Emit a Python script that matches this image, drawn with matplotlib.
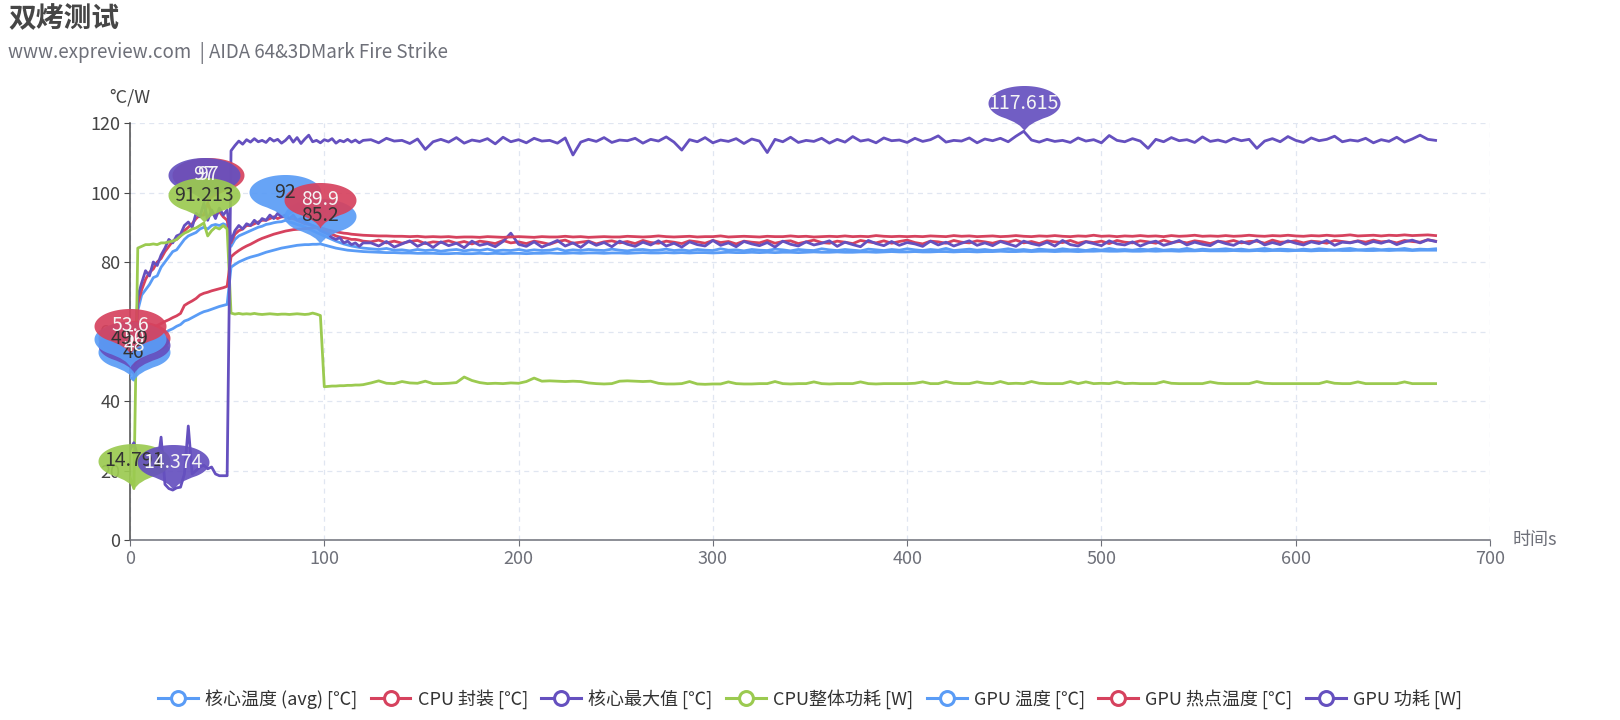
import numpy as np
import matplotlib
matplotlib.use("Agg")
import matplotlib.pyplot as plt
from matplotlib.lines import Line2D
from matplotlib.path import Path

plt.rcParams['font.family'] = ['Noto Sans CJK SC', 'DejaVu Sans']

#Sample times (s): every 2 s up to 120 s, then every 4 s.
time_s = np.concatenate([np.arange(0, 121, 2), np.arange(124, 673, 4)])

series_names = ["核心温度 (avg) [℃]", "CPU 封装 [℃]", "核心最大值 [℃]", "CPU整体功耗 [W]",
                "GPU 温度 [℃]", "GPU 热点温度 [℃]", "GPU 功耗 [W]"]
series_colors = ["#5a9cf6", "#d6425e", "#6550bf", "#9bca50", "#5a9cf6", "#d6425e", "#6550bf"]
label_colors = ["#333333", "#f4f4f4", "#f4f4f4", "#333333", "#333333", "#f4f4f4", "#f4f4f4"]

core_avg = [
    47, 46, 66, 70.5, 72, 73.5, 75.5, 76, 78.5, 80,
    81.5, 83, 83.5, 85, 86.5, 87.5, 88, 88.5, 89.5, 90,
    89.5, 90.5, 90.8, 90.5, 91, 90.5, 84.5, 86.5, 87.5, 88,
    88.5, 89, 89.5, 90, 90.3, 90.8, 91, 91.3, 91.5, 91.6,
    92, 91.5, 91.2, 90.8, 90.5, 90, 89.5, 89, 88.5, 88,
    87.5, 87, 86.5, 86, 85.6, 85.2, 84.9, 84.6, 84.4, 84.2,
    84,
    83.8, 83.6, 83.9, 83.4, 83.5, 83.2, 83.6, 83.3, 83.5, 83.1,
    83.4, 83.6, 83.2, 83.5, 83.3, 83.7, 83.2, 83.4, 83.3, 83.6,
    83.2, 83.5, 83.3, 83.4, 83.8, 83.2, 83.5, 83.3, 83.6, 83.4,
    83.3, 83.7, 83.4, 83.2, 83.5, 83.6, 83.3, 83.4, 83.7, 83.3,
    83.5, 83.2, 83.6, 83.4, 83.3, 83.8, 83.4, 83.5, 83.2, 83.6,
    83.4, 83.3, 83.7, 83.5, 83.2, 83.6, 83.4, 83.3, 83.8, 83.5,
    83.3, 83.6, 83.4, 83.2, 83.7, 83.5, 83.3, 83.6, 83.4, 83.8,
    83.5, 83.3, 83.6, 83.4, 83.9, 83.3, 83.5, 83.7, 83.4, 83.6,
    83.3, 83.5, 83.8, 83.4, 83.6, 83.3, 83.7, 83.5, 83.4, 83.8,
    83.5, 83.6, 83.3, 83.7, 83.4, 83.9, 83.5, 83.6, 83.4, 83.7,
    83.5, 83.8, 83.4, 83.6, 83.5, 83.9, 83.4, 83.7, 83.5, 83.6,
    83.8, 83.5, 83.7, 83.4, 83.6, 83.9, 83.5, 83.7, 83.6, 83.4,
    83.7, 83.5, 83.8, 83.6, 83.4, 83.7, 83.9, 83.5, 83.6, 83.8,
    83.5, 83.7, 83.6, 83.9, 83.5, 83.7, 83.6, 83.8]

cpu_package = [
    51, 50, 68, 72, 75, 77, 78, 80, 81, 83,
    84.5, 86, 86.5, 87.5, 89, 90, 91, 92.5, 93.5, 93.5,
    97, 94, 93.5, 94.5, 93, 92, 85.5, 88, 89, 89.5,
    90.5, 90.5, 91, 91.5, 92, 92, 92.5, 93, 92.5, 93,
    93, 92.5, 92.5, 92, 91.5, 91, 90.8, 90.5, 90, 89.5,
    89, 88.5, 88, 87.5, 87.2, 87, 86.8, 86.5, 86.5, 86.3,
    86,
    85.8, 86.3, 85.5, 86.0, 85.4, 85.9, 86.2, 85.3, 85.8, 85.6,
    86.1, 85.4, 85.9, 85.2, 86.0, 85.7, 85.3, 86.2, 85.5, 85.8,
    85.3, 86.0, 85.6, 85.1, 85.9, 86.3, 85.4, 85.7, 86.0, 85.2,
    85.8, 86.1, 85.5, 85.9, 85.3, 86.2, 85.6, 85.4, 86.0, 85.7,
    85.3, 86.1, 85.8, 85.4, 86.2, 85.6, 85.9, 85.2, 86.0, 85.7,
    85.5, 86.2, 85.4, 85.9, 86.1, 85.3, 85.8, 86.3, 85.6, 85.4,
    86.0, 85.7, 85.3, 86.2, 85.8, 85.5, 86.1, 85.4, 85.9, 86.3,
    85.6, 85.2, 86.0, 85.8, 85.4, 86.2, 85.7, 85.5, 86.1, 85.8,
    85.4, 86.0, 85.7, 86.3, 85.5, 85.9, 85.3, 86.1, 85.8, 85.6,
    86.2, 85.4, 85.9, 85.6, 86.0, 85.3, 86.2, 85.7, 85.5, 86.1,
    85.8, 85.4, 86.3, 85.6, 85.9, 85.5, 86.1, 85.8, 85.3, 86.0,
    85.7, 86.2, 85.5, 85.9, 86.0, 85.4, 86.3, 85.7, 85.8, 86.1,
    85.5, 86.0, 85.8, 85.4, 86.2, 85.9, 85.6, 86.1, 85.7, 86.3,
    85.8, 86.0, 85.5, 86.2, 85.9, 85.7, 86.4, 86.0]

core_max = [
    49, 48, 70, 74, 77.5, 76, 80, 79, 82, 84,
    86.5, 85.5, 87.5, 88, 90.5, 91.5, 90, 94, 93, 97,
    92, 95, 92.5, 95.5, 93.5, 95, 86, 89, 90.5, 89.5,
    91, 90.5, 92, 91, 92.5, 92, 93.5, 92.5, 94, 93,
    93.5, 92.5, 93.5, 92, 92.5, 91.5, 91, 90.5, 90, 89,
    88.5, 88, 87, 86.5, 87, 85.5, 86, 85, 85.5, 84.5,
    85.5,
    85.5, 84.6, 85.9, 84.3, 85.2, 86.1, 84.5, 85.6, 84.2, 85.8,
    84.7, 85.4, 84.1, 86.0, 84.8, 85.3, 84.4, 85.9, 88.3, 85.1,
    84.5, 85.8, 84.3, 85.2, 86.2, 84.6, 85.5, 84.2, 85.9, 84.8,
    85.6, 84.4, 86.0, 85.1, 84.5, 85.7, 84.9, 86.1, 84.6, 85.4,
    84.3, 85.8, 85.0, 84.6, 86.2, 84.8, 85.5, 84.4, 85.9, 85.2,
    84.7, 85.6, 84.3, 86.0, 85.1, 84.6, 85.8, 84.9, 85.4, 86.1,
    84.5, 85.7, 85.0, 84.4, 86.2, 85.3, 84.7, 85.9, 84.8, 85.6,
    85.2, 84.5, 86.0, 84.9, 85.7, 84.6, 85.4, 86.1, 84.8, 85.5,
    84.7, 85.9, 85.2, 84.5, 86.0, 85.3, 84.8, 85.7, 84.6, 86.2,
    85.0, 84.6, 85.8, 85.3, 84.7, 86.1, 85.2, 84.9, 85.8, 84.6,
    85.5, 86.0, 84.8, 85.4, 86.2, 84.9, 85.7, 85.1, 84.7, 86.0,
    85.3, 84.8, 85.9, 85.2, 86.3, 84.9, 85.6, 85.0, 86.1, 85.4,
    84.9, 85.8, 85.3, 86.2, 84.8, 85.7, 85.5, 86.0, 85.1, 85.9,
    85.4, 86.1, 85.0, 85.8, 86.3, 85.5, 86.4, 85.9]

cpu_power = [
    18, 14.791, 84, 84.5, 85, 85, 85.2, 85, 85.5, 85.5,
    85.8, 86, 86.5, 87.5, 88.3, 88.8, 89.5, 89.8, 90.5, 91.213,
    87.5, 89, 90, 89.5, 90.5, 89.5, 65.3, 65, 65.2, 65,
    65.1, 65, 65.2, 65, 64.9, 65, 65.1, 65, 64.9, 65,
    65, 64.9, 65, 65.1, 65, 64.9, 65, 65.3, 65, 64.6,
    44.1, 44.2, 44.3, 44.3, 44.4, 44.4, 44.5, 44.5, 44.6, 44.6,
    44.7,
    45.2, 45.8, 45.1, 45.0, 45.6, 45.2, 45.1, 45.7, 45.0, 45.0,
    45.1, 45.3, 46.9, 45.9, 45.3, 45.0, 45.1, 45.0, 45.2, 45.1,
    45.6, 46.6, 45.7, 45.8, 45.7, 45.6, 45.7, 45.6, 45.2, 45.0,
    44.9, 45.0, 45.7, 45.8, 45.7, 45.6, 45.7, 45.1, 44.9, 44.9,
    45.0, 45.6, 44.9, 44.8, 44.9, 44.9, 45.5, 45.0, 44.9, 44.9,
    45.0, 45.0, 45.6, 45.0, 44.9, 45.0, 45.0, 45.5, 45.0, 44.9,
    45.0, 45.0, 45.0, 45.5, 45.0, 44.9, 45.0, 45.0, 45.0, 45.0,
    45.1, 45.5, 45.0, 45.0, 45.6, 45.1, 45.0, 45.0, 45.5, 45.1,
    45.0, 45.6, 45.0, 45.1, 45.0, 45.6, 45.1, 45.0, 45.0, 45.0,
    45.6, 45.0, 45.5, 45.0, 45.1, 45.0, 45.5, 45.0, 45.1, 45.0,
    45.0, 45.0, 45.6, 45.1, 45.0, 45.0, 45.0, 45.0, 45.5, 45.1,
    45.0, 45.0, 45.0, 45.0, 45.6, 45.1, 45.0, 45.0, 45.0, 45.0,
    45.0, 45.0, 45.0, 45.6, 45.1, 45.0, 45.0, 45.5, 45.0, 45.0,
    45.0, 45.0, 45.0, 45.5, 45.0, 45.0, 45.0, 45.0]

gpu_temp = [
    49.9, 52, 53.5, 54.6, 55.6, 56.5, 57.3, 58, 58.8, 59.6,
    60.3, 60.8, 61.5, 62, 63, 63.4, 64, 64.6, 65.2, 65.7,
    66, 66.4, 66.8, 67.2, 67.5, 67.8, 78.5, 79.3, 80, 80.5,
    81, 81.4, 81.7, 82, 82.4, 82.8, 83.1, 83.4, 83.7, 84,
    84.2, 84.4, 84.6, 84.8, 84.9, 85, 85, 85.1, 85.1, 85.2,
    84.9, 84.6, 84.3, 84, 83.8, 83.6, 83.4, 83.3, 83.2, 83.1,
    83,
    82.9, 82.8, 82.7, 82.7, 82.6, 82.6, 82.5, 82.5, 82.5, 82.4,
    82.4, 82.5, 82.4, 82.4, 82.5, 82.4, 82.5, 82.4, 82.5, 82.5,
    82.4, 82.5, 82.5, 82.6, 82.5, 82.5, 82.6, 82.5, 82.6, 82.6,
    82.5, 82.6, 82.6, 82.5, 82.6, 82.7, 82.6, 82.6, 82.7, 82.6,
    82.7, 82.6, 82.7, 82.7, 82.6, 82.7, 82.8, 82.7, 82.7, 82.8,
    82.7, 82.8, 82.7, 82.8, 82.8, 82.7, 82.8, 82.9, 82.8, 82.8,
    82.9, 82.8, 82.8, 82.9, 82.9, 82.8, 82.9, 83.0, 82.9, 82.9,
    83.0, 82.9, 82.9, 83.0, 83.0, 82.9, 83.0, 83.0, 82.9, 83.0,
    83.0, 83.1, 83.0, 83.0, 83.1, 83.0, 83.1, 83.1, 83.0, 83.1,
    83.1, 83.0, 83.1, 83.1, 83.2, 83.1, 83.1, 83.2, 83.1, 83.1,
    83.2, 83.1, 83.2, 83.2, 83.1, 83.2, 83.2, 83.3, 83.2, 83.2,
    83.2, 83.3, 83.2, 83.2, 83.3, 83.2, 83.3, 83.3, 83.2, 83.3,
    83.3, 83.2, 83.3, 83.3, 83.4, 83.3, 83.3, 83.4, 83.3, 83.3,
    83.4, 83.3, 83.4, 83.4, 83.3, 83.4, 83.4, 83.4]

gpu_hotspot = [
    53.6, 56, 57.5, 58.6, 59.5, 60.3, 61, 61.7, 62.3, 62.9,
    63.4, 64, 64.5, 65.2, 67.5, 68.2, 68.8, 69.5, 70.5, 71,
    71.3, 71.7, 72, 72.3, 72.6, 73, 81.5, 82.5, 83.3, 84,
    84.6, 85.1, 85.7, 86.3, 86.8, 87.2, 87.6, 88, 88.3, 88.6,
    88.9, 89.1, 89.3, 89.4, 89.5, 89.6, 89.7, 89.8, 89.8, 89.9,
    89.5, 89.2, 88.9, 88.7, 88.5, 88.3, 88.2, 88, 87.9, 87.8,
    87.7,
    87.6, 87.5, 87.5, 87.4, 87.4, 87.3, 87.4, 87.2, 87.3, 87.2,
    87.3, 87.1, 87.2, 87.2, 87.1, 87.3, 87.2, 87.1, 87.2, 87.3,
    87.2, 87.1, 87.3, 87.2, 87.2, 87.4, 87.2, 87.3, 87.1, 87.2,
    87.3, 87.2, 87.2, 87.4, 87.3, 87.2, 87.3, 87.5, 87.3, 87.2,
    87.3, 87.4, 87.2, 87.3, 87.3, 87.5, 87.2, 87.3, 87.4, 87.3,
    87.2, 87.4, 87.3, 87.3, 87.5, 87.3, 87.4, 87.2, 87.3, 87.4,
    87.3, 87.5, 87.3, 87.4, 87.3, 87.6, 87.4, 87.3, 87.4, 87.3,
    87.4, 87.3, 87.5, 87.4, 87.3, 87.6, 87.4, 87.5, 87.3, 87.4,
    87.5, 87.3, 87.4, 87.6, 87.4, 87.3, 87.5, 87.4, 87.6, 87.4,
    87.3, 87.5, 87.4, 87.7, 87.4, 87.5, 87.3, 87.5, 87.4, 87.6,
    87.4, 87.5, 87.3, 87.6, 87.4, 87.5, 87.7, 87.4, 87.5, 87.4,
    87.6, 87.4, 87.5, 87.7, 87.5, 87.4, 87.6, 87.5, 87.7, 87.5,
    87.4, 87.6, 87.5, 87.7, 87.5, 87.6, 87.8, 87.5, 87.6, 87.7,
    87.5, 87.7, 87.6, 87.8, 87.6, 87.7, 87.8, 87.6]

gpu_power = [
    26, 28, 24, 21, 20, 22, 24, 21, 29.6, 16,
    14.8, 14.374, 15, 15.2, 19, 32.8, 19, 20, 21, 21.5,
    20.5, 21, 19, 18.5, 18.5, 18.5, 112, 113.5, 114.8, 113.9,
    115.2, 114.5, 115.5, 114.6, 115, 114.4, 115.6, 114.8, 115.3, 114.2,
    115, 116.2, 114.5, 115.8, 114.1, 115.4, 116.5, 114.6, 115, 114.3,
    115.2, 114.8, 115.5, 114.2, 115, 114.6, 115.3, 114.5, 115.1, 114.3,
    115,
    115.2, 114.3, 115.6, 114.8, 115.0, 114.1, 115.4, 112.4, 114.6, 115.3,
    114.5, 115.8, 114.2, 115.1, 114.7, 115.5, 114.0, 115.9, 114.6, 115.2,
    114.3, 115.6, 114.8, 115.0, 114.2, 115.7, 110.8, 114.5, 115.3, 114.7,
    115.8, 114.4, 115.1, 114.9, 115.6, 114.2, 115.3, 114.8, 116.0, 114.5,
    112.2, 115.2, 114.6, 115.8, 114.3, 115.1, 114.7, 115.5, 114.1, 115.4,
    114.8, 111.5, 115.3, 114.6, 115.9, 114.4, 115.0, 114.7, 115.6, 114.2,
    115.3, 114.5, 116.1, 114.8, 115.2, 114.3, 115.7, 114.9, 115.1, 114.4,
    115.6, 114.7, 115.2, 116.3, 114.5, 115.0, 114.8, 115.7, 114.3, 115.4,
    114.9, 115.6, 114.6, 116.2, 117.615, 115.1, 114.5, 115.3, 114.7, 115.0,
    114.4, 115.7, 114.8, 115.2, 114.3, 116.4, 115.0, 114.6, 115.5, 114.8,
    112.7, 115.3, 114.6, 115.8, 114.9, 115.2, 114.4, 116.0, 114.7, 115.1,
    114.5, 115.6, 114.9, 115.3, 112.7, 114.8, 115.5, 114.6, 116.1, 115.0,
    114.4, 115.7, 114.9, 115.3, 116.2, 114.6, 115.1, 114.8, 115.6, 114.3,
    115.2, 114.7, 115.9, 114.5, 115.4, 116.5, 115.3, 115.0]

all_series = [core_avg, cpu_package, core_max, cpu_power, gpu_temp, gpu_hotspot, gpu_power]
for s in all_series:
    assert len(s) == len(time_s), (len(s), len(time_s))

#Balloon ("pin") marker used for the max / min points, tip at the origin.
ang = np.deg2rad(np.linspace(-50, 230, 60))
pin_verts = list(zip(36 * np.cos(ang), 28 + 17.5 * np.sin(ang)))
pin_verts += [(-3, 8), (0, 0), (3, 8), pin_verts[0], (0, 0)]
pin_codes = [Path.MOVETO] + [Path.LINETO] * 59 + [Path.CURVE3] * 4 + [Path.CLOSEPOLY]
pin_path = Path(pin_verts, pin_codes)
PX = 0.72  # points per pixel at dpi 100

fig = plt.figure(figsize=(16.2, 7.2), dpi=100)
ax = fig.add_axes([130 / 1620, 180 / 720, 1360 / 1620, 417 / 720])

for i, s in enumerate(all_series):
    ax.plot(time_s, s, color=series_colors[i], lw=2.0, zorder=3 + i * 0.01,
            solid_joinstyle='round')

#Max / min balloons; labels sit above every balloon.
for i, s in enumerate(all_series):
    arr = np.array(s)
    for idx in [int(np.argmax(arr)), int(np.argmin(arr))]:
        x, y = time_s[idx], arr[idx]
        ax.plot([x], [y], marker=pin_path, markersize=2 * 45.5 * PX, color=series_colors[i],
                markeredgewidth=0, alpha=0.92, zorder=10 + i, clip_on=False)
        ax.annotate(f"{y:g}", xy=(x, y), xytext=(0, 28 * PX), textcoords='offset points',
                    ha='center', va='center', fontsize=14, color=label_colors[i],
                    zorder=30 + i, annotation_clip=False)

ax.set_xlim(0, 700)
ax.set_ylim(0, 120)
ax.set_xticks(range(0, 701, 100))
ax.set_yticks(range(0, 121, 20))
ax.grid(True, color='#E0E6F1', linestyle=(0, (4, 3.5)), linewidth=0.9)
ax.set_axisbelow(True)
for side in ['top', 'right']:
    ax.spines[side].set_visible(False)
ax.spines['left'].set_color('#4a4a4a')
ax.spines['bottom'].set_color('#6E7079')
ax.spines['left'].set_linewidth(1.1)
ax.spines['bottom'].set_linewidth(1.1)
ax.tick_params(axis='y', length=4, color='#4a4a4a', labelsize=13, labelcolor='#444444', pad=3)
ax.tick_params(axis='x', length=4, color='#6E7079', labelsize=13, labelcolor='#6E7079', pad=3)

ax.text(0, 1 + 26 / 417, '°C/W', transform=ax.transAxes, ha='center', va='center',
        fontsize=13, color='#444444')
ax.text(1 + 23 / 1360, 0, '时间s', transform=ax.transAxes, ha='left', va='center',
        fontsize=13, color='#6E7079')

fig.text(8 / 1620, 1 - 19 / 720, '双烤测试', fontsize=20, fontweight='bold',
         color='#464646', va='center', ha='left')
fig.text(8 / 1620, 1 - 53 / 720, 'www.expreview.com  | AIDA 64&3DMark Fire Strike',
         fontsize=13.5, color='#6E7079', va='center', ha='left')

handles = [Line2D([0], [0], color=c, lw=2.2, marker='o', markersize=10,
                  markerfacecolor='white', markeredgewidth=2.2) for c in series_colors]
fig.legend(handles, series_names, loc='center', bbox_to_anchor=(0.5, 1 - 699 / 720),
           ncol=7, frameon=False, fontsize=13, handlelength=2.2, handletextpad=0.4,
           columnspacing=0.75, labelcolor='#333333')

fig.savefig('out.png', dpi=100)
